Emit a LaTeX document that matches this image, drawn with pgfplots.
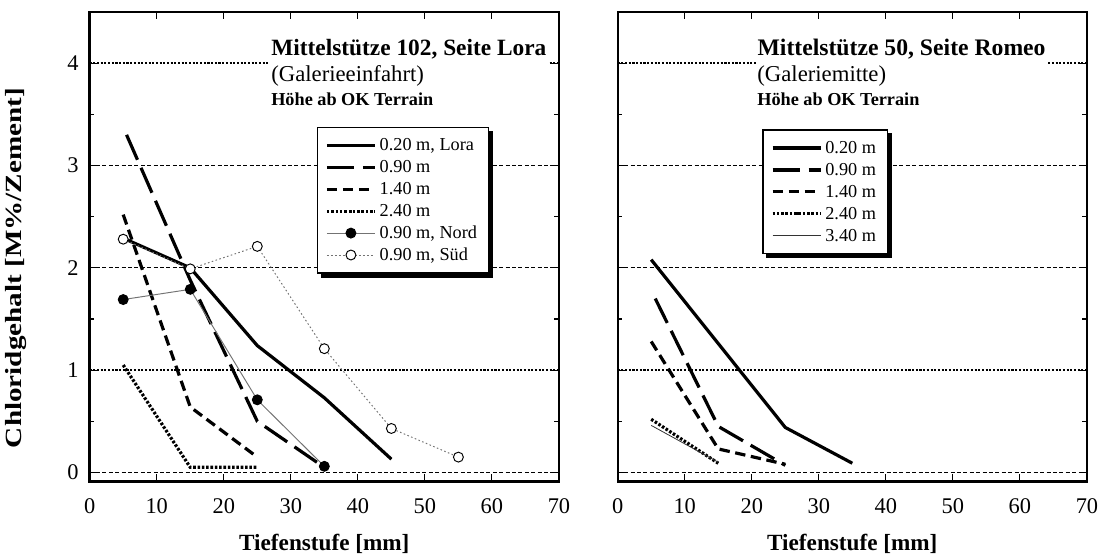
\documentclass[border=0pt]{standalone}
\usepackage{fontspec}
\setmainfont{Liberation Serif}
\usepackage{pgfplots}
\pgfplotsset{compat=1.18}
\pgfdeclarelayer{bg}
\pgfsetlayers{bg,main}
\newcommand{\legfont}{\normalfont\fontsize{11.4}{13}\selectfont}
\newcommand{\subfont}{\normalfont\fontsize{14.2}{17}\selectfont}

\pgfplotsset{
  panel/.style={
    width=293.3pt, height=293.3pt, scale only axis,
    xmin=0, xmax=70, ymin=-0.087, ymax=4.5,
    xtick={0,10,...,70},
    ytick={0,2,3},
    minor ytick={0.5,1.5,2.5,3.5},
    extra y ticks={1,4},
    ymajorgrids,
    major grid style={line width=0.6pt, dash pattern=on 2.5pt off 1.5pt, black},
    extra y tick style={major grid style={line width=1.1pt, dash pattern=on 1.3pt off 1pt, black}},
    tick align=inside,
    major tick length=4.4pt, minor tick length=2.8pt,
    tick style={black, line width=0.7pt},
    axis line style={line width=1.5pt},
    ticklabel style={font=\normalfont\fontsize{14}{16}\selectfont},
    /pgf/number format/assume math mode=true,
    xticklabel style={yshift=-7.5pt},
    yticklabel style={xshift=-3.4pt},
    xlabel={Tiefenstufe [mm]},
    xlabel style={font=\bfseries\fontsize{14.5}{17}\selectfont,
                  at={(axis description cs:0.5,-0.1464)}, anchor=base},
    legend cell align=left,
    legend style={draw=black, line width=0.8pt, fill=white,
        inner xsep=5pt, inner ysep=4.4pt, row sep=0pt, font=\legfont,
        cells={inner xsep=1pt, inner ysep=1pt, text height=8.2pt, text depth=2.2pt}},
    legend image code/.code={\draw[mark repeat=2, mark phase=2]
        plot coordinates {(0pt,0pt)(15pt,0pt)(30pt,0pt)};},
  },
  s020/.style={black, line width=2pt},
  s090/.style={black, line width=2pt, dash pattern=on 17pt off 5.5pt},
  s140/.style={black, line width=2pt, dash pattern=on 6.5pt off 3.5pt},
  s240/.style={black, line width=2pt, dash pattern=on 1.6pt off 1.1pt},
  s340/.style={black!80, line width=0.5pt},
  nord/.style={black!55, line width=0.6pt, mark=*, mark size=3.1pt,
               mark options={solid, fill=black, draw=black}},
  sud/.style={black!55, line width=0.6pt, dash pattern=on 1pt off 1.5pt,
              mark=*, mark size=3.1pt,
              mark options={solid, fill=white, draw=black, line width=0.6pt}},
}

\begin{document}
\begin{tikzpicture}
\useasboundingbox (0,0) rectangle (691.25pt,346.25pt);

% left panel
\begin{axis}[panel, at={(56.06pt,45.4pt)}, anchor=south west,
    ylabel={\scalebox{1.255}[1]{Chloridgehalt [M\%/Zement]}},
    ylabel style={font=\bfseries\fontsize{14.5}{17}\selectfont,
                  at={(axis description cs:-0.1449,0.4545)}, anchor=base},
    legend style={at={(0.4837,0.7556)}, anchor=north west, name=legL},
  ]
  \addplot[s020] coordinates {(5,2.29)(15,2.00)(25,1.24)(35,0.73)(45,0.13)};
  \addlegendentry{0.20 m, Lora}
  \addplot[s090] coordinates {(5.5,3.30)(15,1.88)(25,0.50)(35,0.05)};
  \addlegendentry{0.90 m}
  \addplot[s140] coordinates {(5,2.52)(15,0.64)(25,0.15)};
  \addlegendentry{1.40 m}
  \addplot[s240] coordinates {(5,1.05)(15,0.05)(25,0.05)};
  \addlegendentry{2.40 m}
  \addplot[nord] coordinates {(5,1.69)(15,1.79)(25,0.71)(35,0.06)};
  \addlegendentry{0.90 m, Nord}
  \addplot[sud] coordinates {(5,2.28)(15,1.99)(25,2.21)(35,1.21)(45,0.43)(55,0.15)};
  \addlegendentry{0.90 m, Süd}
  \node[anchor=base west, fill=white, inner xsep=1pt, inner ysep=4pt,
        font=\bfseries\fontsize{14.6}{17}\selectfont]
    at (axis description cs:0.383,0.908) {Mittelstütze 102, Seite Lora};
  \node[anchor=base west, inner sep=0pt]
    at (axis description cs:0.3863,0.8515) {\subfont (Galerieeinfahrt)};
  \node[anchor=base west, inner sep=0pt, font=\bfseries\fontsize{11.4}{14}\selectfont]
    at (axis description cs:0.3863,0.8018) {Höhe ab OK Terrain};
\end{axis}

% right panel
\begin{axis}[panel, at={(386.06pt,45.4pt)}, anchor=south west,
    yticklabels={}, extra y tick labels={},
    legend style={at={(0.3081,0.7501)}, anchor=north west, name=legR},
  ]
  \addplot[s020] coordinates {(5,2.08)(15,1.26)(25,0.44)(35,0.09)};
  \addlegendentry{0.20 m}
  \addplot[s090] coordinates {(5.6,1.70)(15,0.45)(25,0.07)};
  \addlegendentry{0.90 m}
  \addplot[s140] coordinates {(5,1.28)(15,0.23)(25,0.08)};
  \addlegendentry{1.40 m}
  \addplot[s240] coordinates {(5,0.52)(15,0.09)};
  \addlegendentry{2.40 m}
  \addplot[s340] coordinates {(5,0.46)(15,0.10)};
  \addlegendentry{3.40 m}
  \node[anchor=base west, fill=white, inner xsep=1pt, inner ysep=4pt,
        font=\bfseries\fontsize{14.8}{17}\selectfont]
    at (axis description cs:0.294,0.908) {Mittelstütze 50, Seite Romeo};
  \node[anchor=base west, inner sep=0pt]
    at (axis description cs:0.297,0.8515) {\subfont (Galeriemitte)};
  \node[anchor=base west, inner sep=0pt, font=\bfseries\fontsize{11.4}{14}\selectfont]
    at (axis description cs:0.297,0.8018) {Höhe ab OK Terrain};
\end{axis}

% legend shadows
\begin{pgfonlayer}{bg}
  \fill[black] ([xshift=2.5pt,yshift=-2.5pt]legL.south west) rectangle ([xshift=2.5pt,yshift=-2.5pt]legL.north east);
  \fill[black] ([xshift=2.5pt,yshift=-2.5pt]legR.south west) rectangle ([xshift=2.5pt,yshift=-2.5pt]legR.north east);
\end{pgfonlayer}
\end{tikzpicture}
\end{document}
